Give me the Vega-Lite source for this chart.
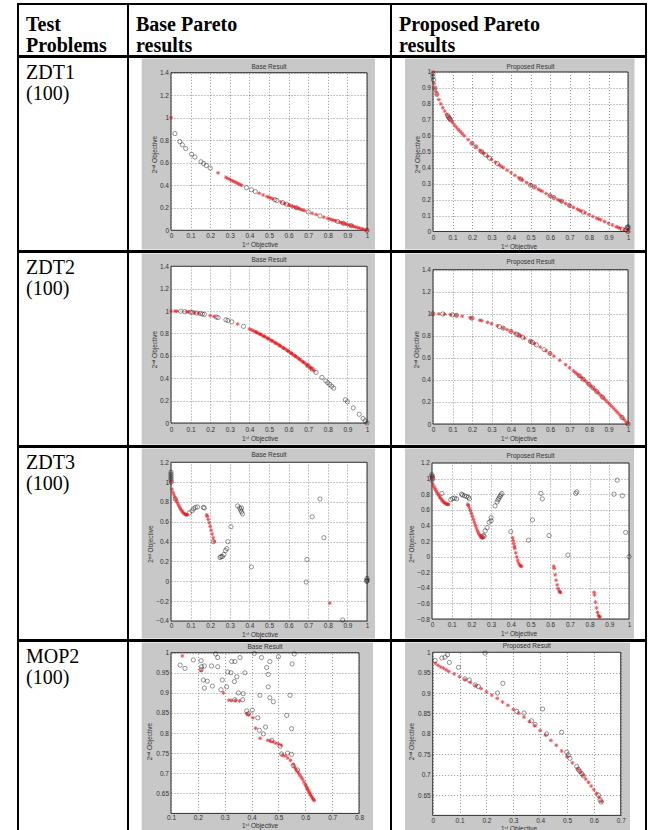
{
"$schema":"https://vega.github.io/schema/vega-lite/v6.json",
"padding":{"left":17,"top":3,"right":2,"bottom":0},
"background":"white",
"spacing":-2,
"config":{
 "view":{"stroke":"black","strokeWidth":2},
 "axis":{"domain":false,"grid":false,"labelFont":"Liberation Sans","labelFontSize":6.5,"labelColor":"#333","titleFont":"Liberation Sans","titleFontSize":6.5,"titleFontWeight":"normal","titleColor":"#333","tickColor":"#555","tickDash":[1,2],"tickWidth":0.65,"labelFlush":false,"labelOverlap":false,"tickCount":100,"minExtent":0,"maxExtent":1000,"format":"~g"},
 "title":{"font":"Liberation Serif","color":"black","anchor":"start","frame":"group","lineHeight":21,"orient":"top","baseline":"top","dx":8}
},
"datasets":{
 "z1b":[{"x":0.02,"y":0.859,"k":"o"},{"x":0.045,"y":0.788,"k":"o"},{"x":0.058,"y":0.759,"k":"o"},{"x":0.075,"y":0.726,"k":"o"},{"x":0.105,"y":0.676,"k":"o"},{"x":0.122,"y":0.651,"k":"o"},{"x":0.153,"y":0.609,"k":"o"},{"x":0.166,"y":0.593,"k":"o"},{"x":0.18,"y":0.576,"k":"o"},{"x":0.2,"y":0.553,"k":"o"},{"x":0.385,"y":0.379,"k":"o"},{"x":0.41,"y":0.36,"k":"o"},{"x":0.43,"y":0.344,"k":"o"},{"x":0.53,"y":0.272,"k":"o"},{"x":0.54,"y":0.265,"k":"o"},{"x":0.57,"y":0.245,"k":"o"},{"x":0.59,"y":0.232,"k":"o"},{"x":0.64,"y":0.2,"k":"o"},{"x":0.7,"y":0.163,"k":"o"},{"x":0.76,"y":0.128,"k":"o"},{"x":0.85,"y":0.078,"k":"o"},{"x":0.88,"y":0.062,"k":"o"},{"x":0.92,"y":0.041,"k":"o"},{"x":1.0,"y":0.0,"k":"o"},
  {"x":0,"y":1,"k":"r"},{"x":0.24,"y":0.51,"k":"r"},{"x":0.28,"y":0.471,"k":"r"},{"x":0.29,"y":0.461,"k":"r"},{"x":0.3,"y":0.452,"k":"r"},{"x":0.31,"y":0.443,"k":"r"},{"x":0.32,"y":0.434,"k":"r"},{"x":0.33,"y":0.426,"k":"r"},{"x":0.34,"y":0.417,"k":"r"},{"x":0.35,"y":0.408,"k":"r"},{"x":0.36,"y":0.4,"k":"r"},{"x":0.45,"y":0.329,"k":"r"},{"x":0.47,"y":0.314,"k":"r"},{"x":0.49,"y":0.3,"k":"r"},{"x":0.5,"y":0.293,"k":"r"},{"x":0.51,"y":0.286,"k":"r"},{"x":0.52,"y":0.279,"k":"r"},{"x":0.56,"y":0.252,"k":"r"},{"x":0.58,"y":0.238,"k":"r"},{"x":0.6,"y":0.225,"k":"r"},{"x":0.61,"y":0.219,"k":"r"},{"x":0.62,"y":0.213,"k":"r"},{"x":0.63,"y":0.206,"k":"r"},{"x":0.64,"y":0.2,"k":"r"},{"x":0.65,"y":0.194,"k":"r"},{"x":0.66,"y":0.188,"k":"r"},{"x":0.67,"y":0.181,"k":"r"},{"x":0.68,"y":0.175,"k":"r"},{"x":0.72,"y":0.151,"k":"r"},{"x":0.74,"y":0.14,"k":"r"},{"x":0.78,"y":0.117,"k":"r"},{"x":0.8,"y":0.106,"k":"r"},{"x":0.81,"y":0.1,"k":"r"},{"x":0.82,"y":0.094,"k":"r"},{"x":0.83,"y":0.089,"k":"r"},{"x":0.84,"y":0.083,"k":"r"},{"x":0.86,"y":0.073,"k":"r"},{"x":0.87,"y":0.067,"k":"r"},{"x":0.88,"y":0.062,"k":"r"},{"x":0.89,"y":0.057,"k":"r"},{"x":0.9,"y":0.051,"k":"r"},{"x":0.91,"y":0.046,"k":"r"},{"x":0.92,"y":0.041,"k":"r"},{"x":0.93,"y":0.036,"k":"r"},{"x":0.94,"y":0.03,"k":"r"},{"x":0.95,"y":0.025,"k":"r"},{"x":0.96,"y":0.02,"k":"r"},{"x":0.97,"y":0.015,"k":"r"},{"x":0.98,"y":0.01,"k":"r"},{"x":0.99,"y":0.005,"k":"r"},{"x":1.0,"y":0.0,"k":"r"}],
 "z1p":[{"x":0,"y":0.99,"k":"o"},{"x":0,"y":0.97,"k":"o"},{"x":0.003,"y":0.95,"k":"o"},{"x":0.01,"y":0.9,"k":"o"},{"x":0.02,"y":0.86,"k":"o"},{"x":0.075,"y":0.726,"k":"o"},{"x":0.08,"y":0.717,"k":"o"},{"x":0.085,"y":0.708,"k":"o"},{"x":0.09,"y":0.7,"k":"o"},{"x":0.2,"y":0.553,"k":"o"},{"x":0.22,"y":0.531,"k":"o"},{"x":0.25,"y":0.5,"k":"o"},{"x":0.27,"y":0.48,"k":"o"},{"x":0.29,"y":0.46,"k":"o"},{"x":0.33,"y":0.426,"k":"o"},{"x":0.45,"y":0.329,"k":"o"},{"x":0.5,"y":0.29,"k":"o"},{"x":0.52,"y":0.279,"k":"o"},{"x":0.6,"y":0.225,"k":"o"},{"x":0.62,"y":0.213,"k":"o"},{"x":0.66,"y":0.19,"k":"o"},{"x":0.7,"y":0.163,"k":"o"},{"x":0.77,"y":0.122,"k":"o"},{"x":0.97,"y":0.015,"k":"o"},{"x":0.99,"y":0.01,"k":"o"},{"x":1.0,"y":0.02,"k":"o"},{"x":1.0,"y":0.03,"k":"o"},{"x":1.0,"y":0.0,"k":"o"},{"x":0.995,"y":0.025,"k":"o"},
  {"x":0,"y":1,"k":"r"},{"x":0.005,"y":0.929,"k":"r"},{"x":0.01,"y":0.9,"k":"r"},{"x":0.015,"y":0.878,"k":"r"},{"x":0.02,"y":0.859,"k":"r"},{"x":0.03,"y":0.827,"k":"r"},{"x":0.04,"y":0.8,"k":"r"},{"x":0.05,"y":0.776,"k":"r"},{"x":0.06,"y":0.755,"k":"r"},{"x":0.07,"y":0.735,"k":"r"},{"x":0.08,"y":0.717,"k":"r"},{"x":0.09,"y":0.7,"k":"r"},{"x":0.1,"y":0.684,"k":"r"},{"x":0.11,"y":0.668,"k":"r"},{"x":0.12,"y":0.654,"k":"r"},{"x":0.13,"y":0.639,"k":"r"},{"x":0.14,"y":0.626,"k":"r"},{"x":0.15,"y":0.613,"k":"r"},{"x":0.16,"y":0.6,"k":"r"},{"x":0.18,"y":0.576,"k":"r"},{"x":0.2,"y":0.553,"k":"r"},{"x":0.22,"y":0.531,"k":"r"},{"x":0.24,"y":0.51,"k":"r"},{"x":0.25,"y":0.5,"k":"r"},{"x":0.26,"y":0.49,"k":"r"},{"x":0.28,"y":0.471,"k":"r"},{"x":0.3,"y":0.452,"k":"r"},{"x":0.32,"y":0.434,"k":"r"},{"x":0.34,"y":0.417,"k":"r"},{"x":0.35,"y":0.408,"k":"r"},{"x":0.36,"y":0.4,"k":"r"},{"x":0.38,"y":0.384,"k":"r"},{"x":0.4,"y":0.368,"k":"r"},{"x":0.42,"y":0.352,"k":"r"},{"x":0.44,"y":0.337,"k":"r"},{"x":0.45,"y":0.329,"k":"r"},{"x":0.46,"y":0.322,"k":"r"},{"x":0.48,"y":0.307,"k":"r"},{"x":0.5,"y":0.293,"k":"r"},{"x":0.52,"y":0.279,"k":"r"},{"x":0.54,"y":0.265,"k":"r"},{"x":0.55,"y":0.258,"k":"r"},{"x":0.56,"y":0.252,"k":"r"},{"x":0.58,"y":0.238,"k":"r"},{"x":0.6,"y":0.225,"k":"r"},{"x":0.62,"y":0.213,"k":"r"},{"x":0.64,"y":0.2,"k":"r"},{"x":0.65,"y":0.194,"k":"r"},{"x":0.66,"y":0.188,"k":"r"},{"x":0.68,"y":0.175,"k":"r"},{"x":0.7,"y":0.163,"k":"r"},{"x":0.72,"y":0.151,"k":"r"},{"x":0.74,"y":0.14,"k":"r"},{"x":0.75,"y":0.134,"k":"r"},{"x":0.76,"y":0.128,"k":"r"},{"x":0.78,"y":0.117,"k":"r"},{"x":0.8,"y":0.106,"k":"r"},{"x":0.82,"y":0.094,"k":"r"},{"x":0.84,"y":0.083,"k":"r"},{"x":0.85,"y":0.078,"k":"r"},{"x":0.86,"y":0.073,"k":"r"},{"x":0.88,"y":0.062,"k":"r"},{"x":0.9,"y":0.051,"k":"r"},{"x":0.92,"y":0.041,"k":"r"},{"x":0.94,"y":0.03,"k":"r"},{"x":0.95,"y":0.025,"k":"r"},{"x":0.96,"y":0.02,"k":"r"},{"x":0.98,"y":0.01,"k":"r"},{"x":1.0,"y":0.0,"k":"r"}],
 "z2b":[{"x":0.05,"y":0.998,"k":"o"},{"x":0.07,"y":0.995,"k":"o"},{"x":0.1,"y":0.99,"k":"o"},{"x":0.11,"y":0.988,"k":"o"},{"x":0.13,"y":0.983,"k":"o"},{"x":0.15,"y":0.978,"k":"o"},{"x":0.16,"y":0.974,"k":"o"},{"x":0.17,"y":0.971,"k":"o"},{"x":0.23,"y":0.947,"k":"o"},{"x":0.24,"y":0.942,"k":"o"},{"x":0.28,"y":0.922,"k":"o"},{"x":0.29,"y":0.916,"k":"o"},{"x":0.31,"y":0.904,"k":"o"},{"x":0.37,"y":0.863,"k":"o"},{"x":0.7,"y":0.51,"k":"o"},{"x":0.72,"y":0.482,"k":"o"},{"x":0.74,"y":0.452,"k":"o"},{"x":0.77,"y":0.407,"k":"o"},{"x":0.79,"y":0.376,"k":"o"},{"x":0.8,"y":0.36,"k":"o"},{"x":0.81,"y":0.344,"k":"o"},{"x":0.82,"y":0.328,"k":"o"},{"x":0.83,"y":0.311,"k":"o"},{"x":0.89,"y":0.208,"k":"o"},{"x":0.9,"y":0.19,"k":"o"},{"x":0.93,"y":0.135,"k":"o"},{"x":0.96,"y":0.078,"k":"o"},{"x":0.98,"y":0.04,"k":"o"},{"x":0.99,"y":0.02,"k":"o"},{"x":1.0,"y":0.0,"k":"o"},
  {"x":0,"y":1,"k":"r"},{"x":0.02,"y":1.0,"k":"r"},{"x":0.03,"y":0.999,"k":"r"},{"x":0.08,"y":0.994,"k":"r"},{"x":0.09,"y":0.992,"k":"r"},{"x":0.12,"y":0.986,"k":"r"},{"x":0.14,"y":0.98,"k":"r"},{"x":0.2,"y":0.96,"k":"r"},{"x":0.22,"y":0.952,"k":"r"},{"x":0.34,"y":0.884,"k":"r"},{"x":0.4,"y":0.84,"k":"r"},{"x":0.41,"y":0.832,"k":"r"},{"x":0.42,"y":0.824,"k":"r"},{"x":0.43,"y":0.815,"k":"r"},{"x":0.435,"y":0.811,"k":"r"},{"x":0.44,"y":0.806,"k":"r"},{"x":0.45,"y":0.798,"k":"r"},{"x":0.455,"y":0.793,"k":"r"},{"x":0.46,"y":0.788,"k":"r"},{"x":0.47,"y":0.779,"k":"r"},{"x":0.475,"y":0.774,"k":"r"},{"x":0.48,"y":0.77,"k":"r"},{"x":0.49,"y":0.76,"k":"r"},{"x":0.495,"y":0.755,"k":"r"},{"x":0.5,"y":0.75,"k":"r"},{"x":0.51,"y":0.74,"k":"r"},{"x":0.515,"y":0.735,"k":"r"},{"x":0.52,"y":0.73,"k":"r"},{"x":0.53,"y":0.719,"k":"r"},{"x":0.535,"y":0.714,"k":"r"},{"x":0.54,"y":0.708,"k":"r"},{"x":0.55,"y":0.698,"k":"r"},{"x":0.555,"y":0.692,"k":"r"},{"x":0.56,"y":0.686,"k":"r"},{"x":0.57,"y":0.675,"k":"r"},{"x":0.575,"y":0.669,"k":"r"},{"x":0.58,"y":0.664,"k":"r"},{"x":0.59,"y":0.652,"k":"r"},{"x":0.595,"y":0.646,"k":"r"},{"x":0.6,"y":0.64,"k":"r"},{"x":0.61,"y":0.628,"k":"r"},{"x":0.615,"y":0.622,"k":"r"},{"x":0.62,"y":0.616,"k":"r"},{"x":0.63,"y":0.603,"k":"r"},{"x":0.635,"y":0.597,"k":"r"},{"x":0.64,"y":0.59,"k":"r"},{"x":0.65,"y":0.578,"k":"r"},{"x":0.655,"y":0.571,"k":"r"},{"x":0.66,"y":0.564,"k":"r"},{"x":0.67,"y":0.551,"k":"r"},{"x":0.675,"y":0.544,"k":"r"},{"x":0.68,"y":0.538,"k":"r"},{"x":0.69,"y":0.524,"k":"r"},{"x":0.695,"y":0.517,"k":"r"},{"x":0.7,"y":0.51,"k":"r"},{"x":0.71,"y":0.496,"k":"r"},{"x":0.715,"y":0.489,"k":"r"},{"x":0.72,"y":0.482,"k":"r"},{"x":0.73,"y":0.467,"k":"r"}],
 "z2p":[{"x":0.0,"y":1.0,"k":"o"},{"x":0.05,"y":0.998,"k":"o"},{"x":0.1,"y":0.99,"k":"o"},{"x":0.12,"y":0.986,"k":"o"},{"x":0.2,"y":0.96,"k":"o"},{"x":0.34,"y":0.884,"k":"o"},{"x":0.36,"y":0.87,"k":"o"},{"x":0.4,"y":0.84,"k":"o"},{"x":0.43,"y":0.815,"k":"o"},{"x":0.44,"y":0.806,"k":"o"},{"x":0.46,"y":0.788,"k":"o"},{"x":0.5,"y":0.75,"k":"o"},{"x":0.51,"y":0.74,"k":"o"},{"x":0.53,"y":0.719,"k":"o"},{"x":0.57,"y":0.675,"k":"o"},{"x":0.6,"y":0.64,"k":"o"},{"x":0.75,"y":0.438,"k":"o"},{"x":0.77,"y":0.407,"k":"o"},{"x":0.8,"y":0.36,"k":"o"},{"x":0.82,"y":0.328,"k":"o"},{"x":0.84,"y":0.294,"k":"o"},{"x":0.87,"y":0.243,"k":"o"},{"x":0.97,"y":0.059,"k":"o"},{"x":1.0,"y":0.0,"k":"o"},
  {"x":0,"y":1,"k":"r"},{"x":0.03,"y":0.999,"k":"r"},{"x":0.06,"y":0.996,"k":"r"},{"x":0.09,"y":0.992,"k":"r"},{"x":0.12,"y":0.986,"k":"r"},{"x":0.15,"y":0.978,"k":"r"},{"x":0.19,"y":0.964,"k":"r"},{"x":0.2,"y":0.96,"k":"r"},{"x":0.24,"y":0.942,"k":"r"},{"x":0.25,"y":0.938,"k":"r"},{"x":0.28,"y":0.922,"k":"r"},{"x":0.3,"y":0.91,"k":"r"},{"x":0.33,"y":0.891,"k":"r"},{"x":0.36,"y":0.87,"k":"r"},{"x":0.38,"y":0.856,"k":"r"},{"x":0.4,"y":0.84,"k":"r"},{"x":0.42,"y":0.824,"k":"r"},{"x":0.44,"y":0.806,"k":"r"},{"x":0.45,"y":0.798,"k":"r"},{"x":0.47,"y":0.779,"k":"r"},{"x":0.5,"y":0.75,"k":"r"},{"x":0.52,"y":0.73,"k":"r"},{"x":0.55,"y":0.698,"k":"r"},{"x":0.58,"y":0.664,"k":"r"},{"x":0.6,"y":0.64,"k":"r"},{"x":0.62,"y":0.616,"k":"r"},{"x":0.65,"y":0.578,"k":"r"},{"x":0.68,"y":0.538,"k":"r"},{"x":0.7,"y":0.51,"k":"r"},{"x":0.72,"y":0.482,"k":"r"},{"x":0.73,"y":0.467,"k":"r"},{"x":0.74,"y":0.452,"k":"r"},{"x":0.75,"y":0.438,"k":"r"},{"x":0.76,"y":0.422,"k":"r"},{"x":0.77,"y":0.407,"k":"r"},{"x":0.78,"y":0.392,"k":"r"},{"x":0.79,"y":0.376,"k":"r"},{"x":0.8,"y":0.36,"k":"r"},{"x":0.81,"y":0.344,"k":"r"},{"x":0.82,"y":0.328,"k":"r"},{"x":0.83,"y":0.311,"k":"r"},{"x":0.84,"y":0.294,"k":"r"},{"x":0.85,"y":0.278,"k":"r"},{"x":0.86,"y":0.26,"k":"r"},{"x":0.87,"y":0.243,"k":"r"},{"x":0.88,"y":0.226,"k":"r"},{"x":0.89,"y":0.208,"k":"r"},{"x":0.9,"y":0.19,"k":"r"},{"x":0.91,"y":0.172,"k":"r"},{"x":0.92,"y":0.154,"k":"r"},{"x":0.93,"y":0.135,"k":"r"},{"x":0.94,"y":0.116,"k":"r"},{"x":0.95,"y":0.098,"k":"r"},{"x":0.96,"y":0.078,"k":"r"},{"x":0.97,"y":0.059,"k":"r"},{"x":0.98,"y":0.04,"k":"r"},{"x":0.99,"y":0.02,"k":"r"},{"x":1.0,"y":0.0,"k":"r"}],
 "z3b":[{"x":0,"y":1.1,"k":"o"},{"x":0,"y":1.08,"k":"o"},{"x":0,"y":1.06,"k":"o"},{"x":0,"y":1.04,"k":"o"},{"x":0,"y":1.02,"k":"o"},{"x":0.002,"y":1.0,"k":"o"},{"x":0.022,"y":0.83,"k":"o"},{"x":0.094,"y":0.69,"k":"o"},{"x":0.107,"y":0.71,"k":"o"},{"x":0.115,"y":0.73,"k":"o"},{"x":0.124,"y":0.745,"k":"o"},{"x":0.135,"y":0.75,"k":"o"},{"x":0.165,"y":0.745,"k":"o"},{"x":0.17,"y":0.74,"k":"o"},{"x":0.216,"y":0.4,"k":"o"},{"x":0.25,"y":0.24,"k":"o"},{"x":0.255,"y":0.25,"k":"o"},{"x":0.262,"y":0.25,"k":"o"},{"x":0.27,"y":0.27,"k":"o"},{"x":0.278,"y":0.31,"k":"o"},{"x":0.285,"y":0.33,"k":"o"},{"x":0.29,"y":0.4,"k":"o"},{"x":0.306,"y":0.55,"k":"o"},{"x":0.34,"y":0.76,"k":"o"},{"x":0.35,"y":0.74,"k":"o"},{"x":0.355,"y":0.72,"k":"o"},{"x":0.36,"y":0.7,"k":"o"},{"x":0.365,"y":0.68,"k":"o"},{"x":0.36,"y":0.74,"k":"o"},{"x":0.41,"y":0.145,"k":"o"},{"x":0.69,"y":-0.007,"k":"o"},{"x":0.694,"y":0.22,"k":"o"},{"x":0.72,"y":0.65,"k":"o"},{"x":0.76,"y":0.83,"k":"o"},{"x":0.78,"y":0.44,"k":"o"},{"x":0.876,"y":-0.39,"k":"o"},{"x":1.0,"y":0.03,"k":"o"},{"x":1.0,"y":0.015,"k":"o"},{"x":0.998,"y":0.0,"k":"o"},{"x":1.0,"y":0.005,"k":"o"},
  {"x":0,"y":1,"k":"r"},{"x":0.005,"y":0.929,"k":"r"},{"x":0.01,"y":0.897,"k":"r"},{"x":0.015,"y":0.871,"k":"r"},{"x":0.02,"y":0.847,"k":"r"},{"x":0.025,"y":0.824,"k":"r"},{"x":0.03,"y":0.803,"k":"r"},{"x":0.035,"y":0.782,"k":"r"},{"x":0.04,"y":0.762,"k":"r"},{"x":0.045,"y":0.744,"k":"r"},{"x":0.05,"y":0.726,"k":"r"},{"x":0.055,"y":0.711,"k":"r"},{"x":0.06,"y":0.698,"k":"r"},{"x":0.065,"y":0.687,"k":"r"},{"x":0.07,"y":0.679,"k":"r"},{"x":0.075,"y":0.673,"k":"r"},{"x":0.08,"y":0.67,"k":"r"},{"x":0.083,"y":0.67,"k":"r"},{"x":0.182,"y":0.67,"k":"r"},{"x":0.185,"y":0.654,"k":"r"},{"x":0.19,"y":0.623,"k":"r"},{"x":0.195,"y":0.589,"k":"r"},{"x":0.2,"y":0.553,"k":"r"},{"x":0.205,"y":0.515,"k":"r"},{"x":0.21,"y":0.477,"k":"r"},{"x":0.215,"y":0.439,"k":"r"},{"x":0.22,"y":0.402,"k":"r"},{"x":0.81,"y":-0.22,"k":"r"}],
 "z3p":[{"x":0,"y":1.05,"k":"o"},{"x":0,"y":1.03,"k":"o"},{"x":0.002,"y":1.02,"k":"o"},{"x":0.003,"y":1.0,"k":"o"},{"x":0,"y":0.98,"k":"o"},{"x":0.05,"y":0.81,"k":"o"},{"x":0.095,"y":0.73,"k":"o"},{"x":0.105,"y":0.745,"k":"o"},{"x":0.115,"y":0.75,"k":"o"},{"x":0.125,"y":0.74,"k":"o"},{"x":0.15,"y":0.8,"k":"o"},{"x":0.155,"y":0.79,"k":"o"},{"x":0.165,"y":0.78,"k":"o"},{"x":0.175,"y":0.77,"k":"o"},{"x":0.185,"y":0.76,"k":"o"},{"x":0.19,"y":0.74,"k":"o"},{"x":0.255,"y":0.25,"k":"o"},{"x":0.26,"y":0.27,"k":"o"},{"x":0.265,"y":0.26,"k":"o"},{"x":0.27,"y":0.33,"k":"o"},{"x":0.28,"y":0.37,"k":"o"},{"x":0.29,"y":0.44,"k":"o"},{"x":0.3,"y":0.5,"k":"o"},{"x":0.3,"y":0.46,"k":"o"},{"x":0.32,"y":0.65,"k":"o"},{"x":0.33,"y":0.7,"k":"o"},{"x":0.335,"y":0.73,"k":"o"},{"x":0.34,"y":0.75,"k":"o"},{"x":0.345,"y":0.77,"k":"o"},{"x":0.35,"y":0.79,"k":"o"},{"x":0.355,"y":0.81,"k":"o"},{"x":0.4,"y":0.32,"k":"o"},{"x":0.49,"y":0.21,"k":"o"},{"x":0.51,"y":0.47,"k":"o"},{"x":0.553,"y":0.81,"k":"o"},{"x":0.56,"y":0.74,"k":"o"},{"x":0.594,"y":0.27,"k":"o"},{"x":0.69,"y":0.02,"k":"o"},{"x":0.73,"y":0.81,"k":"o"},{"x":0.735,"y":0.83,"k":"o"},{"x":0.924,"y":0.8,"k":"o"},{"x":0.94,"y":0.98,"k":"o"},{"x":0.966,"y":0.78,"k":"o"},{"x":0.983,"y":0.31,"k":"o"},{"x":1.0,"y":0.0,"k":"o"},
  {"x":0,"y":1,"k":"r"},{"x":0.005,"y":0.929,"k":"r"},{"x":0.01,"y":0.897,"k":"r"},{"x":0.015,"y":0.871,"k":"r"},{"x":0.02,"y":0.847,"k":"r"},{"x":0.025,"y":0.824,"k":"r"},{"x":0.03,"y":0.803,"k":"r"},{"x":0.035,"y":0.782,"k":"r"},{"x":0.04,"y":0.762,"k":"r"},{"x":0.045,"y":0.744,"k":"r"},{"x":0.05,"y":0.726,"k":"r"},{"x":0.055,"y":0.711,"k":"r"},{"x":0.06,"y":0.698,"k":"r"},{"x":0.065,"y":0.687,"k":"r"},{"x":0.07,"y":0.679,"k":"r"},{"x":0.075,"y":0.673,"k":"r"},{"x":0.08,"y":0.67,"k":"r"},{"x":0.083,"y":0.67,"k":"r"},{"x":0.182,"y":0.67,"k":"r"},{"x":0.185,"y":0.654,"k":"r"},{"x":0.19,"y":0.623,"k":"r"},{"x":0.195,"y":0.589,"k":"r"},{"x":0.2,"y":0.553,"k":"r"},{"x":0.205,"y":0.515,"k":"r"},{"x":0.21,"y":0.477,"k":"r"},{"x":0.215,"y":0.439,"k":"r"},{"x":0.22,"y":0.402,"k":"r"},{"x":0.225,"y":0.367,"k":"r"},{"x":0.23,"y":0.334,"k":"r"},{"x":0.235,"y":0.306,"k":"r"},{"x":0.24,"y":0.282,"k":"r"},{"x":0.245,"y":0.263,"k":"r"},{"x":0.25,"y":0.25,"k":"r"},{"x":0.255,"y":0.243,"k":"r"},{"x":0.258,"y":0.242,"k":"r"},{"x":0.409,"y":0.242,"k":"r"},{"x":0.412,"y":0.206,"k":"r"},{"x":0.415,"y":0.167,"k":"r"},{"x":0.418,"y":0.13,"k":"r"},{"x":0.42,"y":0.105,"k":"r"},{"x":0.425,"y":0.048,"k":"r"},{"x":0.43,"y":-0.004,"k":"r"},{"x":0.435,"y":-0.047,"k":"r"},{"x":0.44,"y":-0.082,"k":"r"},{"x":0.445,"y":-0.107,"k":"r"},{"x":0.45,"y":-0.121,"k":"r"},{"x":0.454,"y":-0.124,"k":"r"},{"x":0.618,"y":-0.123,"k":"r"},{"x":0.62,"y":-0.152,"k":"r"},{"x":0.625,"y":-0.233,"k":"r"},{"x":0.63,"y":-0.303,"k":"r"},{"x":0.635,"y":-0.363,"k":"r"},{"x":0.64,"y":-0.409,"k":"r"},{"x":0.645,"y":-0.44,"k":"r"},{"x":0.65,"y":-0.456,"k":"r"},{"x":0.652,"y":-0.458,"k":"r"},{"x":0.823,"y":-0.458,"k":"r"},{"x":0.825,"y":-0.492,"k":"r"},{"x":0.83,"y":-0.583,"k":"r"},{"x":0.835,"y":-0.658,"k":"r"},{"x":0.84,"y":-0.715,"k":"r"},{"x":0.845,"y":-0.754,"k":"r"},{"x":0.85,"y":-0.772,"k":"r"},{"x":0.852,"y":-0.773,"k":"r"}],
 "m2b":[{"x":0.134,"y":0.969,"k":"o"},{"x":0.152,"y":0.961,"k":"o"},{"x":0.183,"y":0.982,"k":"o"},{"x":0.212,"y":0.98,"k":"o"},{"x":0.214,"y":0.965,"k":"o"},{"x":0.212,"y":0.958,"k":"o"},{"x":0.224,"y":0.967,"k":"o"},{"x":0.22,"y":0.932,"k":"o"},{"x":0.235,"y":0.929,"k":"o"},{"x":0.224,"y":0.912,"k":"o"},{"x":0.254,"y":0.917,"k":"o"},{"x":0.251,"y":0.967,"k":"o"},{"x":0.274,"y":0.965,"k":"o"},{"x":0.266,"y":0.997,"k":"o"},{"x":0.274,"y":0.988,"k":"o"},{"x":0.286,"y":0.908,"k":"o"},{"x":0.291,"y":0.932,"k":"o"},{"x":0.307,"y":0.915,"k":"o"},{"x":0.311,"y":0.952,"k":"o"},{"x":0.326,"y":0.978,"k":"o"},{"x":0.338,"y":0.978,"k":"o"},{"x":0.357,"y":0.988,"k":"o"},{"x":0.323,"y":0.95,"k":"o"},{"x":0.345,"y":0.94,"k":"o"},{"x":0.336,"y":0.928,"k":"o"},{"x":0.351,"y":0.9,"k":"o"},{"x":0.369,"y":0.898,"k":"o"},{"x":0.367,"y":0.883,"k":"o"},{"x":0.375,"y":0.95,"k":"o"},{"x":0.338,"y":0.883,"k":"o"},{"x":0.41,"y":0.998,"k":"o"},{"x":0.437,"y":0.988,"k":"o"},{"x":0.468,"y":0.978,"k":"o"},{"x":0.5,"y":0.99,"k":"o"},{"x":0.559,"y":0.997,"k":"o"},{"x":0.551,"y":0.972,"k":"o"},{"x":0.456,"y":0.963,"k":"o"},{"x":0.462,"y":0.946,"k":"o"},{"x":0.462,"y":0.915,"k":"o"},{"x":0.431,"y":0.894,"k":"o"},{"x":0.468,"y":0.888,"k":"o"},{"x":0.481,"y":0.878,"k":"o"},{"x":0.543,"y":0.894,"k":"o"},{"x":0.531,"y":0.844,"k":"o"},{"x":0.549,"y":0.811,"k":"o"},{"x":0.403,"y":0.857,"k":"o"},{"x":0.423,"y":0.838,"k":"o"},{"x":0.388,"y":0.848,"k":"o"},{"x":0.382,"y":0.855,"k":"o"},{"x":0.429,"y":0.807,"k":"o"},{"x":0.444,"y":0.798,"k":"o"},{"x":0.452,"y":0.815,"k":"o"},{"x":0.475,"y":0.782,"k":"o"},{"x":0.506,"y":0.767,"k":"o"},{"x":0.512,"y":0.748,"k":"o"},{"x":0.534,"y":0.75,"k":"o"},{"x":0.549,"y":0.747,"k":"o"},{"x":0.555,"y":0.719,"k":"o"},{"x":0.571,"y":0.708,"k":"o"},
  {"x":0.142,"y":0.992,"k":"r"},{"x":0.212,"y":0.955,"k":"r"},{"x":0.295,"y":0.9,"k":"r"},{"x":0.315,"y":0.882,"k":"r"},{"x":0.325,"y":0.881,"k":"r"},{"x":0.34,"y":0.881,"k":"r"},{"x":0.355,"y":0.88,"k":"r"},{"x":0.382,"y":0.848,"k":"r"},{"x":0.39,"y":0.845,"k":"r"},{"x":0.405,"y":0.838,"k":"r"},{"x":0.415,"y":0.812,"k":"r"},{"x":0.432,"y":0.787,"k":"r"},{"x":0.46,"y":0.782,"k":"r"},{"x":0.47,"y":0.78,"k":"r"},{"x":0.48,"y":0.778,"k":"r"},{"x":0.49,"y":0.775,"k":"r"},{"x":0.5,"y":0.773,"k":"r"},{"x":0.51,"y":0.77,"k":"r"},{"x":0.515,"y":0.745,"k":"r"},{"x":0.525,"y":0.743,"k":"r"},{"x":0.535,"y":0.738,"k":"r"},{"x":0.545,"y":0.732,"k":"r"},{"x":0.555,"y":0.722,"k":"r"},{"x":0.56,"y":0.715,"k":"r"},{"x":0.565,"y":0.71,"k":"r"},{"x":0.57,"y":0.705,"k":"r"},{"x":0.575,"y":0.7,"k":"r"},{"x":0.58,"y":0.695,"k":"r"},{"x":0.585,"y":0.69,"k":"r"},{"x":0.59,"y":0.685,"k":"r"},{"x":0.595,"y":0.678,"k":"r"},{"x":0.6,"y":0.672,"k":"r"},{"x":0.603,"y":0.668,"k":"r"},{"x":0.606,"y":0.664,"k":"r"},{"x":0.609,"y":0.66,"k":"r"},{"x":0.612,"y":0.656,"k":"r"},{"x":0.615,"y":0.652,"k":"r"},{"x":0.618,"y":0.648,"k":"r"},{"x":0.621,"y":0.645,"k":"r"},{"x":0.624,"y":0.641,"k":"r"},{"x":0.627,"y":0.638,"k":"r"},{"x":0.63,"y":0.635,"k":"r"},{"x":0.633,"y":0.632,"k":"r"}],
 "m2p":[{"x":0.009,"y":0.98,"k":"o"},{"x":0.034,"y":0.986,"k":"o"},{"x":0.046,"y":0.988,"k":"o"},{"x":0.055,"y":0.994,"k":"o"},{"x":0.062,"y":0.975,"k":"o"},{"x":0.096,"y":0.963,"k":"o"},{"x":0.12,"y":0.935,"k":"o"},{"x":0.136,"y":0.932,"k":"o"},{"x":0.158,"y":0.92,"k":"o"},{"x":0.17,"y":0.916,"k":"o"},{"x":0.195,"y":0.998,"k":"o"},{"x":0.241,"y":0.9,"k":"o"},{"x":0.261,"y":0.924,"k":"o"},{"x":0.313,"y":0.855,"k":"o"},{"x":0.34,"y":0.851,"k":"o"},{"x":0.368,"y":0.832,"k":"o"},{"x":0.381,"y":0.823,"k":"o"},{"x":0.409,"y":0.861,"k":"o"},{"x":0.424,"y":0.8,"k":"o"},{"x":0.48,"y":0.804,"k":"o"},{"x":0.499,"y":0.755,"k":"o"},{"x":0.505,"y":0.748,"k":"o"},{"x":0.511,"y":0.74,"k":"o"},{"x":0.536,"y":0.72,"k":"o"},{"x":0.542,"y":0.713,"k":"o"},{"x":0.548,"y":0.708,"k":"o"},{"x":0.555,"y":0.702,"k":"o"},{"x":0.561,"y":0.697,"k":"o"},{"x":0.617,"y":0.65,"k":"o"},{"x":0.623,"y":0.638,"k":"o"},{"x":0.627,"y":0.633,"k":"o"},
  {"x":0.01,"y":0.973,"k":"r"},{"x":0.02,"y":0.968,"k":"r"},{"x":0.03,"y":0.964,"k":"r"},{"x":0.04,"y":0.961,"k":"r"},{"x":0.05,"y":0.957,"k":"r"},{"x":0.06,"y":0.953,"k":"r"},{"x":0.08,"y":0.947,"k":"r"},{"x":0.1,"y":0.94,"k":"r"},{"x":0.12,"y":0.933,"k":"r"},{"x":0.14,"y":0.926,"k":"r"},{"x":0.16,"y":0.918,"k":"r"},{"x":0.18,"y":0.911,"k":"r"},{"x":0.2,"y":0.903,"k":"r"},{"x":0.22,"y":0.895,"k":"r"},{"x":0.24,"y":0.887,"k":"r"},{"x":0.26,"y":0.878,"k":"r"},{"x":0.28,"y":0.87,"k":"r"},{"x":0.3,"y":0.86,"k":"r"},{"x":0.32,"y":0.851,"k":"r"},{"x":0.34,"y":0.841,"k":"r"},{"x":0.36,"y":0.83,"k":"r"},{"x":0.38,"y":0.82,"k":"r"},{"x":0.4,"y":0.808,"k":"r"},{"x":0.42,"y":0.797,"k":"r"},{"x":0.44,"y":0.784,"k":"r"},{"x":0.46,"y":0.772,"k":"r"},{"x":0.48,"y":0.758,"k":"r"},{"x":0.5,"y":0.744,"k":"r"},{"x":0.52,"y":0.729,"k":"r"},{"x":0.54,"y":0.714,"k":"r"},{"x":0.55,"y":0.706,"k":"r"},{"x":0.56,"y":0.698,"k":"r"},{"x":0.57,"y":0.689,"k":"r"},{"x":0.58,"y":0.681,"k":"r"},{"x":0.59,"y":0.672,"k":"r"},{"x":0.6,"y":0.663,"k":"r"},{"x":0.61,"y":0.654,"k":"r"},{"x":0.62,"y":0.644,"k":"r"},{"x":0.63,"y":0.634,"k":"r"}]
},
"vconcat":[
 {"hconcat":[
   {"width":110,"height":52,"title":{"text":["Test","Problems"],"fontSize":20,"fontWeight":"bold","offset":-52},"data":{"values":[]},"mark":"point","encoding":{"x":{"datum":0,"type":"quantitative","axis":null,"scale":{"domain":[0,1]}},"y":{"datum":0,"type":"quantitative","axis":null,"scale":{"domain":[0,1]}}}},
   {"width":263,"height":52,"title":{"text":["Base Pareto","results"],"fontSize":20,"fontWeight":"bold","offset":-52},"data":{"values":[]},"mark":"point","encoding":{"x":{"datum":0,"type":"quantitative","axis":null,"scale":{"domain":[0,1]}},"y":{"datum":0,"type":"quantitative","axis":null,"scale":{"domain":[0,1]}}}},
   {"width":255,"height":52,"title":{"text":["Proposed Pareto","results"],"fontSize":20,"fontWeight":"bold","offset":-52},"data":{"values":[]},"mark":"point","encoding":{"x":{"datum":0,"type":"quantitative","axis":null,"scale":{"domain":[0,1]}},"y":{"datum":0,"type":"quantitative","axis":null,"scale":{"domain":[0,1]}}}}
 ],"spacing":0,"bounds":"flush"},
 {"hconcat":[
   {"width":110,"height":194,"title":{"text":["ZDT1","(100)"],"fontSize":20,"fontWeight":"normal","offset":-47},"data":{"values":[]},"mark":"point","encoding":{"x":{"datum":0,"type":"quantitative","axis":null,"scale":{"domain":[0,1]}},"y":{"datum":0,"type":"quantitative","axis":null,"scale":{"domain":[0,1]}}}},
   {"width":263,"height":194,"layer":[
     {"data":{"values":[{}]},"mark":{"type":"rect","fill":"#c8c8c8"},"encoding":{"x":{"datum":-0.1495,"type":"quantitative"},"x2":{"datum":1.0408},"y":{"datum":-0.1705,"type":"quantitative"},"y2":{"datum":1.5261}}},
     {"data":{"values":[{}]},"mark":{"type":"rect","fill":"white","stroke":"black","strokeWidth":0.8},"encoding":{"x":{"datum":0,"type":"quantitative"},"x2":{"datum":1},"y":{"datum":0,"type":"quantitative"},"y2":{"datum":1.4}}},
     {"data":{"name":"z1b"},"mark":{"type":"point","filled":false},"encoding":{
       "x":{"field":"x","type":"quantitative","scale":{"domain":[-0.2194,1.1224],"nice":false,"zero":false},"axis":{"zindex":1,"tickCount":100,"labelOverlap":false,"values":[0,0.1,0.2,0.3,0.4,0.5,0.6,0.7,0.8,0.9,1],"offset":-20.7,"tickSize":-157.6,"labelPadding":160,"title":"1ˢᵗ Objective","titlePadding":2.5}},
       "y":{"field":"y","type":"quantitative","scale":{"domain":[-0.1838,1.5394],"nice":false,"zero":false},"axis":{"zindex":1,"tickCount":100,"labelOverlap":false,"values":[0,0.2,0.4,0.6,0.8,1,1.2,1.4],"offset":-43,"tickSize":-196,"labelPadding":198.5,"title":"2ⁿᵈ Objective","titlePadding":2}},
       "shape":{"field":"k","type":"nominal","scale":{"domain":["o","r"],"range":["circle","M-1,0L1,0M0,-1L0,1M-0.7,-0.7L0.7,0.7M-0.7,0.7L0.7,-0.7"]},"legend":null},
       "color":{"field":"k","type":"nominal","scale":{"domain":["o","r"],"range":["#000000","#e8141c"]},"legend":null},
       "size":{"field":"k","type":"ordinal","scale":{"domain":["o","r"],"range":[18,14]},"legend":null},
       "strokeWidth":{"field":"k","type":"ordinal","scale":{"domain":["o","r"],"range":[0.6,1]},"legend":null}}},
     {"data":{"values":[{}]},"mark":{"type":"text","font":"Liberation Sans","fontSize":6.5,"color":"#333","baseline":"middle","dy":-5.7},"encoding":{"x":{"datum":0.5,"type":"quantitative"},"y":{"datum":1.4,"type":"quantitative"},"text":{"value":"Base Result"}}}
   ]},
   {"width":255,"height":194,"layer":[
     {"data":{"values":[{}]},"mark":{"type":"rect","fill":"#c8c8c8"},"encoding":{"x":{"datum":-0.1436,"type":"quantitative"},"x2":{"datum":1.0333},"y":{"datum":-0.1129,"type":"quantitative"},"y2":{"datum":1.0846}}},
     {"data":{"values":[{}]},"mark":{"type":"rect","fill":"white","stroke":"black","strokeWidth":0.8},"encoding":{"x":{"datum":0,"type":"quantitative"},"x2":{"datum":1},"y":{"datum":0,"type":"quantitative"},"y2":{"datum":1}}},
     {"data":{"name":"z1p"},"mark":{"type":"point","filled":false},"encoding":{
       "x":{"field":"x","type":"quantitative","scale":{"domain":[-0.2154,1.0923],"nice":false,"zero":false},"axis":{"zindex":1,"tickCount":100,"labelOverlap":false,"values":[0,0.1,0.2,0.3,0.4,0.5,0.6,0.7,0.8,0.9,1],"offset":-19.5,"tickSize":-159.5,"labelPadding":162,"title":"1ˢᵗ Objective","titlePadding":2.5}},
       "y":{"field":"y","type":"quantitative","scale":{"domain":[-0.1223,1.094],"nice":false,"zero":false},"axis":{"zindex":1,"tickCount":100,"labelOverlap":false,"values":[0,0.1,0.2,0.3,0.4,0.5,0.6,0.7,0.8,0.9,1],"offset":-42,"tickSize":-195,"labelPadding":197.5,"title":"2ⁿᵈ Objective","titlePadding":1}},
       "shape":{"field":"k","type":"nominal","scale":{"domain":["o","r"],"range":["circle","M-1,0L1,0M0,-1L0,1M-0.7,-0.7L0.7,0.7M-0.7,0.7L0.7,-0.7"]},"legend":null},
       "color":{"field":"k","type":"nominal","scale":{"domain":["o","r"],"range":["#000000","#e8141c"]},"legend":null},
       "size":{"field":"k","type":"ordinal","scale":{"domain":["o","r"],"range":[18,14]},"legend":null},
       "strokeWidth":{"field":"k","type":"ordinal","scale":{"domain":["o","r"],"range":[0.6,1]},"legend":null}}},
     {"data":{"values":[{}]},"mark":{"type":"text","font":"Liberation Sans","fontSize":6.5,"color":"#333","baseline":"middle","dy":-5},"encoding":{"x":{"datum":0.5,"type":"quantitative"},"y":{"datum":1,"type":"quantitative"},"text":{"value":"Proposed Result"}}}
   ]}
 ],"spacing":0,"bounds":"flush"},
 {"hconcat":[
   {"width":110,"height":194,"title":{"text":["ZDT2","(100)"],"fontSize":20,"fontWeight":"normal","offset":-47},"data":{"values":[]},"mark":"point","encoding":{"x":{"datum":0,"type":"quantitative","axis":null,"scale":{"domain":[0,1]}},"y":{"datum":0,"type":"quantitative","axis":null,"scale":{"domain":[0,1]}}}},
   {"width":263,"height":194,"layer":[
     {"data":{"values":[{}]},"mark":{"type":"rect","fill":"#c8c8c8"},"encoding":{"x":{"datum":-0.1495,"type":"quantitative"},"x2":{"datum":1.0408},"y":{"datum":-0.192,"type":"quantitative"},"y2":{"datum":1.5143}}},
     {"data":{"values":[{}]},"mark":{"type":"rect","fill":"white","stroke":"black","strokeWidth":0.8},"encoding":{"x":{"datum":0,"type":"quantitative"},"x2":{"datum":1},"y":{"datum":0,"type":"quantitative"},"y2":{"datum":1.4}}},
     {"data":{"name":"z2b"},"mark":{"type":"point","filled":false},"encoding":{
       "x":{"field":"x","type":"quantitative","scale":{"domain":[-0.2194,1.1224],"nice":false,"zero":false},"axis":{"zindex":1,"tickCount":100,"labelOverlap":false,"values":[0,0.1,0.2,0.3,0.4,0.5,0.6,0.7,0.8,0.9,1],"offset":-23,"tickSize":-156.7,"labelPadding":159.7,"title":"1ˢᵗ Objective","titlePadding":2.5}},
       "y":{"field":"y","type":"quantitative","scale":{"domain":[-0.2054,1.5277],"nice":false,"zero":false},"axis":{"zindex":1,"tickCount":100,"labelOverlap":false,"values":[0,0.2,0.4,0.6,0.8,1,1.2,1.4],"offset":-43,"tickSize":-196,"labelPadding":198.5,"title":"2ⁿᵈ Objective","titlePadding":2}},
       "shape":{"field":"k","type":"nominal","scale":{"domain":["o","r"],"range":["circle","M-1,0L1,0M0,-1L0,1M-0.7,-0.7L0.7,0.7M-0.7,0.7L0.7,-0.7"]},"legend":null},
       "color":{"field":"k","type":"nominal","scale":{"domain":["o","r"],"range":["#000000","#e8141c"]},"legend":null},
       "size":{"field":"k","type":"ordinal","scale":{"domain":["o","r"],"range":[18,14]},"legend":null},
       "strokeWidth":{"field":"k","type":"ordinal","scale":{"domain":["o","r"],"range":[0.6,1]},"legend":null}}},
     {"data":{"values":[{}]},"mark":{"type":"text","font":"Liberation Sans","fontSize":6.5,"color":"#333","baseline":"middle","dy":-6.6},"encoding":{"x":{"datum":0.5,"type":"quantitative"},"y":{"datum":1.4,"type":"quantitative"},"text":{"value":"Base Result"}}}
   ]},
   {"width":255,"height":194,"layer":[
     {"data":{"values":[{}]},"mark":{"type":"rect","fill":"#c8c8c8"},"encoding":{"x":{"datum":-0.1436,"type":"quantitative"},"x2":{"datum":1.0333},"y":{"datum":-0.186,"type":"quantitative"},"y2":{"datum":1.547}}},
     {"data":{"values":[{}]},"mark":{"type":"rect","fill":"white","stroke":"black","strokeWidth":0.8},"encoding":{"x":{"datum":0,"type":"quantitative"},"x2":{"datum":1},"y":{"datum":0,"type":"quantitative"},"y2":{"datum":1.4}}},
     {"data":{"name":"z2p"},"mark":{"type":"point","filled":false},"encoding":{
       "x":{"field":"x","type":"quantitative","scale":{"domain":[-0.2154,1.0923],"nice":false,"zero":false},"axis":{"zindex":1,"tickCount":100,"labelOverlap":false,"values":[0,0.1,0.2,0.3,0.4,0.5,0.6,0.7,0.8,0.9,1],"offset":-22,"tickSize":-154.3,"labelPadding":157,"title":"1ˢᵗ Objective","titlePadding":2.5}},
       "y":{"field":"y","type":"quantitative","scale":{"domain":[-0.1996,1.5606],"nice":false,"zero":false},"axis":{"zindex":1,"tickCount":100,"labelOverlap":false,"values":[0,0.2,0.4,0.6,0.8,1,1.2,1.4],"offset":-42,"tickSize":-195,"labelPadding":197.5,"title":"2ⁿᵈ Objective","titlePadding":2}},
       "shape":{"field":"k","type":"nominal","scale":{"domain":["o","r"],"range":["circle","M-1,0L1,0M0,-1L0,1M-0.7,-0.7L0.7,0.7M-0.7,0.7L0.7,-0.7"]},"legend":null},
       "color":{"field":"k","type":"nominal","scale":{"domain":["o","r"],"range":["#000000","#e8141c"]},"legend":null},
       "size":{"field":"k","type":"ordinal","scale":{"domain":["o","r"],"range":[18,14]},"legend":null},
       "strokeWidth":{"field":"k","type":"ordinal","scale":{"domain":["o","r"],"range":[0.6,1]},"legend":null}}},
     {"data":{"values":[{}]},"mark":{"type":"text","font":"Liberation Sans","fontSize":6.5,"color":"#333","baseline":"middle","dy":-7.7},"encoding":{"x":{"datum":0.5,"type":"quantitative"},"y":{"datum":1.4,"type":"quantitative"},"text":{"value":"Proposed Result"}}}
   ]}
 ],"spacing":0,"bounds":"flush"},
 {"hconcat":[
   {"width":110,"height":193,"title":{"text":["ZDT3","(100)"],"fontSize":20,"fontWeight":"normal","offset":-47},"data":{"values":[]},"mark":"point","encoding":{"x":{"datum":0,"type":"quantitative","axis":null,"scale":{"domain":[0,1]}},"y":{"datum":0,"type":"quantitative","axis":null,"scale":{"domain":[0,1]}}}},
   {"width":263,"height":193,"layer":[
     {"data":{"values":[{}]},"mark":{"type":"rect","fill":"#c8c8c8"},"encoding":{"x":{"datum":-0.1495,"type":"quantitative"},"x2":{"datum":1.0408},"y":{"datum":-0.5765,"type":"quantitative"},"y2":{"datum":1.3392}}},
     {"data":{"values":[{}]},"mark":{"type":"rect","fill":"white","stroke":"black","strokeWidth":0.8},"encoding":{"x":{"datum":0,"type":"quantitative"},"x2":{"datum":1},"y":{"datum":-0.4,"type":"quantitative"},"y2":{"datum":1.2}}},
     {"data":{"name":"z3b"},"mark":{"type":"point","filled":false},"encoding":{
       "x":{"field":"x","type":"quantitative","scale":{"domain":[-0.2194,1.1224],"nice":false,"zero":false},"axis":{"zindex":1,"tickCount":100,"labelOverlap":false,"values":[0,0.1,0.2,0.3,0.4,0.5,0.6,0.7,0.8,0.9,1],"offset":-19,"tickSize":-158.7,"labelPadding":160.2,"title":"1ˢᵗ Objective","titlePadding":2.5}},
       "y":{"field":"y","type":"quantitative","scale":{"domain":[-0.5916,1.3543],"nice":false,"zero":false},"axis":{"zindex":1,"tickCount":100,"labelOverlap":false,"values":[-0.4,-0.2,0,0.2,0.4,0.6,0.8,1,1.2],"offset":-43,"tickSize":-196,"labelPadding":198.5,"title":"2ⁿᵈ Objective","titlePadding":2}},
       "shape":{"field":"k","type":"nominal","scale":{"domain":["o","r"],"range":["circle","M-1,0L1,0M0,-1L0,1M-0.7,-0.7L0.7,0.7M-0.7,0.7L0.7,-0.7"]},"legend":null},
       "color":{"field":"k","type":"nominal","scale":{"domain":["o","r"],"range":["#000000","#e8141c"]},"legend":null},
       "size":{"field":"k","type":"ordinal","scale":{"domain":["o","r"],"range":[18,14]},"legend":null},
       "strokeWidth":{"field":"k","type":"ordinal","scale":{"domain":["o","r"],"range":[0.6,1]},"legend":null}}},
     {"data":{"values":[{}]},"mark":{"type":"text","font":"Liberation Sans","fontSize":6.5,"color":"#333","baseline":"middle","dy":-7},"encoding":{"x":{"datum":0.5,"type":"quantitative"},"y":{"datum":1.2,"type":"quantitative"},"text":{"value":"Base Result"}}}
   ]},
   {"width":255,"height":193,"layer":[
     {"data":{"values":[{}]},"mark":{"type":"rect","fill":"#c8c8c8"},"encoding":{"x":{"datum":-0.1371,"type":"quantitative"},"x2":{"datum":1.0254},"y":{"datum":-1.05,"type":"quantitative"},"y2":{"datum":1.3859}}},
     {"data":{"values":[{}]},"mark":{"type":"rect","fill":"white","stroke":"black","strokeWidth":0.8},"encoding":{"x":{"datum":0,"type":"quantitative"},"x2":{"datum":1},"y":{"datum":-0.8,"type":"quantitative"},"y2":{"datum":1.2}}},
     {"data":{"name":"z3p"},"mark":{"type":"point","filled":false},"encoding":{
       "x":{"field":"x","type":"quantitative","scale":{"domain":[-0.2081,1.0863],"nice":false,"zero":false},"axis":{"zindex":1,"tickCount":100,"labelOverlap":false,"values":[0,0.1,0.2,0.3,0.4,0.5,0.6,0.7,0.8,0.9,1],"offset":-21,"tickSize":-156,"labelPadding":158.5,"title":"1ˢᵗ Objective","titlePadding":2.5}},
       "y":{"field":"y","type":"quantitative","scale":{"domain":[-1.0692,1.4051],"nice":false,"zero":false},"axis":{"zindex":1,"tickCount":100,"labelOverlap":false,"values":[-0.8,-0.6,-0.4,-0.2,0,0.2,0.4,0.6,0.8,1,1.2],"offset":-41,"tickSize":-197,"labelPadding":199.5,"title":"2ⁿᵈ Objective","titlePadding":2}},
       "shape":{"field":"k","type":"nominal","scale":{"domain":["o","r"],"range":["circle","M-1,0L1,0M0,-1L0,1M-0.7,-0.7L0.7,0.7M-0.7,0.7L0.7,-0.7"]},"legend":null},
       "color":{"field":"k","type":"nominal","scale":{"domain":["o","r"],"range":["#000000","#e8141c"]},"legend":null},
       "size":{"field":"k","type":"ordinal","scale":{"domain":["o","r"],"range":[18,14]},"legend":null},
       "strokeWidth":{"field":"k","type":"ordinal","scale":{"domain":["o","r"],"range":[0.6,1]},"legend":null}}},
     {"data":{"values":[{}]},"mark":{"type":"text","font":"Liberation Sans","fontSize":6.5,"color":"#333","baseline":"middle","dy":-6.7},"encoding":{"x":{"datum":0.5,"type":"quantitative"},"y":{"datum":1.2,"type":"quantitative"},"text":{"value":"Proposed Result"}}}
   ]}
 ],"spacing":0,"bounds":"flush"},
 {"hconcat":[
   {"width":110,"height":200,"title":{"text":["MOP2","\u2002(100)"],"fontSize":20,"fontWeight":"normal","offset":-47},"data":{"values":[]},"mark":"point","encoding":{"x":{"datum":0,"type":"quantitative","axis":null,"scale":{"domain":[0,1]}},"y":{"datum":0,"type":"quantitative","axis":null,"scale":{"domain":[0,1]}}}},
   {"width":263,"height":200,"layer":[
     {"data":{"values":[{}]},"mark":{"type":"rect","fill":"#c8c8c8"},"encoding":{"x":{"datum":-0.0091,"type":"quantitative"},"x2":{"datum":0.852},"y":{"datum":0.535,"type":"quantitative"},"y2":{"datum":1.0254}}},
     {"data":{"values":[{}]},"mark":{"type":"rect","fill":"white","stroke":"black","strokeWidth":0.8},"encoding":{"x":{"datum":0.1,"type":"quantitative"},"x2":{"datum":0.8},"y":{"datum":0.6,"type":"quantitative"},"y2":{"datum":1}}},
     {"data":{"name":"m2b"},"mark":{"type":"point","filled":false},"encoding":{
       "x":{"field":"x","type":"quantitative","scale":{"domain":[-0.0601,0.9191],"nice":false,"zero":false},"axis":{"zindex":1,"tickCount":100,"labelOverlap":false,"values":[0.1,0.2,0.3,0.4,0.5,0.6,0.7,0.8],"offset":-27.6,"tickSize":-160.7,"labelPadding":161.7,"title":"1ˢᵗ Objective","titlePadding":2}},
       "y":{"field":"y","type":"quantitative","scale":{"domain":[0.5313,1.0291],"nice":false,"zero":false},"axis":{"zindex":1,"tickCount":100,"labelOverlap":false,"values":[0.65,0.7,0.75,0.8,0.85,0.9,0.95,1],"offset":-43,"tickSize":-188,"labelPadding":190.5,"title":"2ⁿᵈ Objective","titlePadding":3}},
       "shape":{"field":"k","type":"nominal","scale":{"domain":["o","r"],"range":["circle","M-1,0L1,0M0,-1L0,1M-0.7,-0.7L0.7,0.7M-0.7,0.7L0.7,-0.7"]},"legend":null},
       "color":{"field":"k","type":"nominal","scale":{"domain":["o","r"],"range":["#000000","#e8141c"]},"legend":null},
       "size":{"field":"k","type":"ordinal","scale":{"domain":["o","r"],"range":[18,14]},"legend":null},
       "strokeWidth":{"field":"k","type":"ordinal","scale":{"domain":["o","r"],"range":[0.6,1]},"legend":null}}},
     {"data":{"values":[{}]},"mark":{"type":"text","font":"Liberation Sans","fontSize":6.5,"color":"#333","baseline":"middle","dy":-6},"encoding":{"x":{"datum":0.45,"type":"quantitative"},"y":{"datum":1,"type":"quantitative"},"text":{"value":"Base Result"}}}
   ]},
   {"width":255,"height":200,"layer":[
     {"data":{"values":[{}]},"mark":{"type":"rect","fill":"#c8c8c8"},"encoding":{"x":{"datum":-0.1031,"type":"quantitative"},"x2":{"datum":0.7345},"y":{"datum":0.541,"type":"quantitative"},"y2":{"datum":1.024}}},
     {"data":{"values":[{}]},"mark":{"type":"rect","fill":"white","stroke":"black","strokeWidth":0.8},"encoding":{"x":{"datum":0,"type":"quantitative"},"x2":{"datum":0.7},"y":{"datum":0.6,"type":"quantitative"},"y2":{"datum":1}}},
     {"data":{"name":"m2p"},"mark":{"type":"point","filled":false},"encoding":{
       "x":{"field":"x","type":"quantitative","scale":{"domain":[-0.1553,0.7941],"nice":false,"zero":false},"axis":{"zindex":1,"tickCount":100,"labelOverlap":false,"values":[0,0.1,0.2,0.3,0.4,0.5,0.6,0.7],"offset":-25.6,"tickSize":-163.1,"labelPadding":165.1,"title":"1ˢᵗ Objective","titlePadding":2}},
       "y":{"field":"y","type":"quantitative","scale":{"domain":[0.5372,1.0277],"nice":false,"zero":false},"axis":{"zindex":1,"tickCount":100,"labelOverlap":false,"values":[0.65,0.7,0.75,0.8,0.85,0.9,0.95,1],"offset":-41.7,"tickSize":-188,"labelPadding":190.5,"title":"2ⁿᵈ Objective","titlePadding":3}},
       "shape":{"field":"k","type":"nominal","scale":{"domain":["o","r"],"range":["circle","M-1,0L1,0M0,-1L0,1M-0.7,-0.7L0.7,0.7M-0.7,0.7L0.7,-0.7"]},"legend":null},
       "color":{"field":"k","type":"nominal","scale":{"domain":["o","r"],"range":["#000000","#e8141c"]},"legend":null},
       "size":{"field":"k","type":"ordinal","scale":{"domain":["o","r"],"range":[18,14]},"legend":null},
       "strokeWidth":{"field":"k","type":"ordinal","scale":{"domain":["o","r"],"range":[0.6,1]},"legend":null}}},
     {"data":{"values":[{}]},"mark":{"type":"text","font":"Liberation Sans","fontSize":6.5,"color":"#333","baseline":"middle","dy":-6.6},"encoding":{"x":{"datum":0.35,"type":"quantitative"},"y":{"datum":1,"type":"quantitative"},"text":{"value":"Proposed Result"}}}
   ]}
 ],"spacing":0,"bounds":"flush"}
]
}
